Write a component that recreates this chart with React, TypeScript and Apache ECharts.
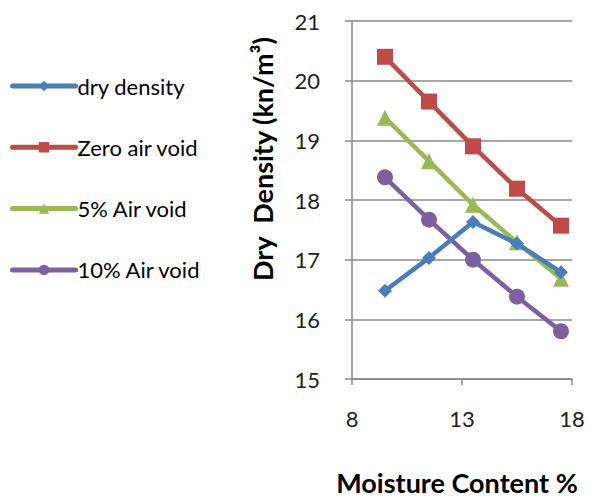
import React, { useEffect, useRef } from "react";
import * as echarts from "echarts";

const moisture = [9.5, 11.5, 13.5, 15.5, 17.5];
const dryDensity = [16.48, 17.03, 17.63, 17.27, 16.79];
const zeroAirVoid = [20.4, 19.65, 18.9, 18.19, 17.57];
const fiveAirVoid = [19.38, 18.65, 17.92, 17.29, 16.68];
const tenAirVoid = [18.38, 17.67, 17.0, 16.38, 15.8];
const seriesNames = ["dry density", "Zero air void", "5% Air void", "10% Air void"];
const colors = ["#4A7EBB", "#BE4B48", "#98B954", "#7D60A0"];
const symbols = ["diamond", "rect", "triangle", "circle"];
const symbolSizes = [14, 16, 16, 16];

const FONT = "Lato";

export default function App() {
  const ref = useRef<HTMLDivElement>(null);
  useEffect(() => {
    document.body.style.margin = "0";
    if (!ref.current) return;
    const chart = echarts.init(ref.current, undefined, { renderer: "svg" });
    const dataSets = [dryDensity, zeroAirVoid, fiveAirVoid, tenAirVoid];
    chart.setOption({
      animation: false,
      backgroundColor: "#ffffff",
      textStyle: { fontFamily: FONT },
      grid: { left: 352, right: 17, top: 21, bottom: 118, containLabel: false },
      legend: {
        orient: "vertical",
        left: 10,
        top: 75,
        padding: 0,
        itemWidth: 63,
        itemHeight: 13,
        itemGap: 39.3,
        lineStyle: { width: 5, cap: "round" },
        textStyle: { fontFamily: FONT, fontSize: 22, lineHeight: 20, color: "#000", padding: [0, 0, 0, -3] },
        data: seriesNames,
      },
      xAxis: {
        type: "value",
        min: 8,
        max: 18,
        interval: 5,
        axisLine: { show: true, lineStyle: { color: "#888", width: 1.5 } },
        axisTick: { show: true, inside: false, length: 6, lineStyle: { color: "#888", width: 1.5 } },
        splitLine: { show: false },
        axisLabel: { fontFamily: FONT, fontSize: 22, color: "#222", margin: 28 },
      },
      yAxis: {
        type: "value",
        min: 15,
        max: 21,
        interval: 1,
        axisLine: { show: true, lineStyle: { color: "#888", width: 1.5 } },
        axisTick: { show: true, inside: false, length: 7, lineStyle: { color: "#888", width: 1.5 } },
        splitLine: { show: true, lineStyle: { color: "#8a8a8a", width: 1.5 } },
        axisLabel: { fontFamily: FONT, fontSize: 22, color: "#222", margin: 32 },
      },
      graphic: [
        {
          type: "text",
          x: 262,
          y: 159,
          rotation: Math.PI / 2,
          style: {
            text: "Dry  Density (kn/m³)",
            fontFamily: FONT,
            fontSize: 27,
            fontWeight: "bold",
            fill: "#000",
            align: "center",
            verticalAlign: "middle",
          },
        },
        {
          type: "text",
          x: 457,
          y: 482,
          style: {
            text: "Moisture Content %",
            fontFamily: FONT,
            fontSize: 27,
            fontWeight: "bold",
            fill: "#000",
            align: "center",
            verticalAlign: "middle",
          },
        },
      ],
      series: seriesNames.map((name, i) => ({
        name,
        type: "line",
        data: moisture.map((m, j) => [m, dataSets[i][j]]),
        symbol: symbols[i],
        symbolSize: symbolSizes[i],
        color: colors[i],
        lineStyle: { width: 4.5, color: colors[i] },
        itemStyle: { color: colors[i] },
        z: 2 + (i === 0 ? 10 : 0),
      })),
    });
    return () => chart.dispose();
  }, []);
  return <div ref={ref} style={{ width: 589, height: 497 }} />;
}
